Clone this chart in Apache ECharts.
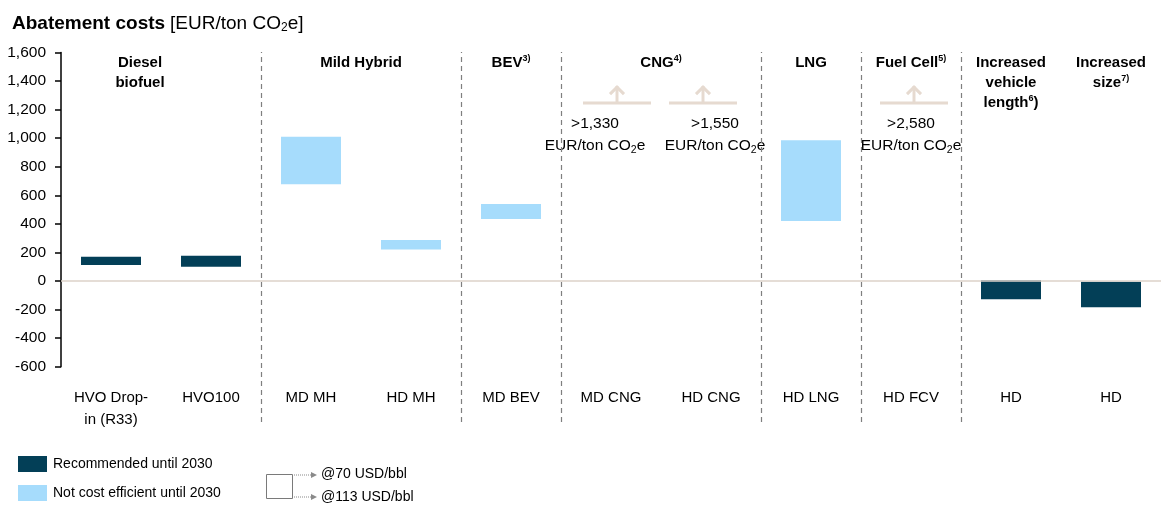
<!DOCTYPE html>
<html>
<head>
<meta charset="utf-8">
<script src="https://cdn.jsdelivr.net/npm/echarts@6/dist/echarts.min.js"></script>
<style>
  html, body { margin: 0; padding: 0; background: #fff; }
  #chart { width: 1161px; height: 506px; }
</style>
</head>
<body>
<div id="chart"></div>
<script>
// categories and values
const categories = ['HVO Drop-\nin (R33)', 'HVO100', 'MD MH', 'HD MH', 'MD BEV', 'MD CNG', 'HD CNG', 'HD LNG', 'HD FCV', 'HD', 'HD']
const recLow = [112, 100, '-', '-', '-', '-', '-', '-', '-', -128, -184]
const recHigh = [170, 177, '-', '-', '-', '-', '-', '-', '-', 5, -5]
const nceLow = ['-', '-', 677, 221, 433, '-', '-', 419, '-', '-', '-']
const nceHigh = ['-', '-', 1010, 286, 538, '-', '-', 985, '-', '-', '-']

// off-scale values shown as arrows
const offScaleCats = [5, 6, 8]
const offScaleValues = [1330, 1550, 2580]
const arrowLevel = 1245

// group headers over the categories
const groupNames = ['Diesel\nbiofuel', 'Mild Hybrid', 'BEV{sup|3)}', 'CNG{sup|4)}', 'LNG', 'Fuel Cell{sup|5)}',
  'Increased\nvehicle\nlength{sup|6}{h|)}', 'Increased\nsize{sup|7)}']
const groupSizes = [2, 2, 1, 2, 1, 1, 1, 1]
const dividerAt = [2, 4, 5, 7, 8, 9]

const yTicks = { min: -600, max: 1600, interval: 200 }

const FONT = '"Liberation Sans", Arial, sans-serif'
const DARK = '#033f57'
const LIGHT = '#a6dcfc'
const BEIGE = '#e6dad0'

const span = (lo, hi) => lo.map((v, i) => (v === '-' ? '-' : hi[i] - v))
const fmt = v => String(v).replace(/\B(?=(\d{3})+(?!\d))/g, ',')

// header centres from group sizes
let acc = 0
const headerData = groupNames.map((name, i) => {
  const c = acc + groupSizes[i] / 2
  acc += groupSizes[i]
  return { value: [c, 1], name: name }
})
headerData[0].label = { offset: [-21, 0] }

const arrowShift = [6, -8, 3]
const textShift = [-16, 4, 0]

const myChart = echarts.init(document.getElementById('chart'))

const chartOptions = {
  animation: false,
  title: {
    text: '{b|Abatement costs} {r|[EUR/ton CO}{s|2}{r|e]}',
    left: 7,
    top: 8,
    textStyle: {
      rich: {
        b: { fontFamily: FONT, fontWeight: 'bold', fontSize: 19, color: '#000' },
        r: { fontFamily: FONT, fontWeight: 'normal', fontSize: 19, color: '#000' },
        s: { fontFamily: FONT, fontWeight: 'normal', fontSize: 12, color: '#000', padding: [9, 0, 0, 0] }
      }
    }
  },
  legend: {
    orient: 'vertical',
    left: 18,
    top: 456,
    padding: 0,
    itemWidth: 29,
    itemHeight: 16,
    itemGap: 13,
    icon: 'rect',
    selectedMode: false,
    data: ['Recommended until 2030', 'Not cost efficient until 2030'],
    textStyle: { fontFamily: FONT, fontSize: 14, color: '#000', padding: [0, 0, 0, 1] }
  },
  grid: [
    { left: 61, right: 0, top: 52.4, bottom: 139.3 },
    { left: 61, right: 0, top: 52, bottom: 84 }
  ],
  xAxis: [
    {
      type: 'category',
      gridIndex: 0,
      data: categories,
      axisLine: { show: false },
      axisTick: { show: false },
      axisLabel: { margin: 20, fontFamily: FONT, fontSize: 15, lineHeight: 22, color: '#000', interval: 0 }
    },
    { type: 'value', gridIndex: 1, min: 0, max: 11, show: false }
  ],
  yAxis: [
    {
      type: 'value',
      gridIndex: 0,
      min: yTicks.min,
      max: yTicks.max,
      interval: yTicks.interval,
      axisLine: { show: true, lineStyle: { color: '#000', width: 1.5 } },
      axisTick: { show: true, length: 6, lineStyle: { color: '#000', width: 1.5 } },
      splitLine: { show: false },
      axisLabel: { margin: 15, fontFamily: FONT, fontSize: 15.5, color: '#000', formatter: v => fmt(v) }
    },
    { type: 'value', gridIndex: 1, min: 0, max: 1, show: false }
  ],
  series: [
    {
      name: 'recBase',
      type: 'bar',
      stack: 'rec',
      stackStrategy: 'all',
      barWidth: 60,
      barGap: '-100%',
      itemStyle: { color: 'transparent' },
      data: recLow,
      silent: true,
      markLine: {
        silent: true,
        symbol: 'none',
        label: { show: false },
        lineStyle: { color: '#ddd2c9', width: 1.5, type: 'solid' },
        data: [{ yAxis: 0 }]
      }
    },
    {
      name: 'Recommended until 2030',
      type: 'bar',
      stack: 'rec',
      stackStrategy: 'all',
      barWidth: 60,
      barGap: '-100%',
      itemStyle: { color: DARK },
      data: span(recLow, recHigh)
    },
    {
      name: 'nceBase',
      type: 'bar',
      stack: 'nce',
      stackStrategy: 'all',
      barWidth: 60,
      barGap: '-100%',
      itemStyle: { color: 'transparent' },
      silent: true,
      data: nceLow
    },
    {
      name: 'Not cost efficient until 2030',
      type: 'bar',
      stack: 'nce',
      stackStrategy: 'all',
      barWidth: 60,
      barGap: '-100%',
      itemStyle: { color: LIGHT },
      data: span(nceLow, nceHigh)
    },
    {
      // arrows for values above the scale
      type: 'custom',
      xAxisIndex: 0,
      yAxisIndex: 0,
      silent: true,
      clip: false,
      data: offScaleCats.map((c, i) => [c, arrowLevel, offScaleValues[i]]),
      encode: { x: 0, y: 1 },
      renderItem: function (params, api) {
        const i = params.dataIndex
        const p = api.coord([api.value(0), api.value(1)])
        const band = api.size([1, 0])[0]
        const ax = p[0] + arrowShift[i]
        const half = band * 0.34
        const ls = { stroke: BEIGE, lineWidth: 3, fill: null }
        return {
          type: 'group',
          children: [
            { type: 'line', shape: { x1: ax - half, y1: p[1], x2: ax + half, y2: p[1] }, style: ls },
            { type: 'line', shape: { x1: ax, y1: p[1], x2: ax, y2: p[1] - 17 }, style: ls },
            { type: 'polyline', shape: { points: [[ax - 7, p[1] - 9], [ax, p[1] - 16], [ax + 7, p[1] - 9]] }, style: ls },
            {
              type: 'text',
              x: p[0] + textShift[i],
              y: p[1] + 10,
              style: {
                text: '>' + fmt(api.value(2)) + '\n{m|EUR/ton CO}{s|2}{m|e}',
                fontFamily: FONT,
                fontSize: 15.5,
                lineHeight: 22,
                fill: '#000',
                align: 'center',
                verticalAlign: 'top',
                rich: {
                  m: { fontFamily: FONT, fontSize: 15.5, lineHeight: 22, fill: '#000' },
                  s: { fontFamily: FONT, fontSize: 10.5, fill: '#000', padding: [8, 0, 0, 0] }
                }
              }
            }
          ]
        }
      }
    },
    {
      // group headers and dividers
      type: 'scatter',
      xAxisIndex: 1,
      yAxisIndex: 1,
      symbolSize: 0,
      silent: true,
      itemStyle: { opacity: 1 },
      data: headerData,
      label: {
        show: true,
        position: 'bottom',
        distance: 1,
        formatter: p => p.name,
        fontFamily: FONT,
        fontWeight: 'bold',
        fontSize: 15,
        lineHeight: 20,
        color: '#000',
        align: 'center',
        rich: {
          sup: { fontFamily: FONT, fontWeight: 'bold', fontSize: 9, color: '#000', padding: [0, 0, 8, 0] },
          h: { fontFamily: FONT, fontWeight: 'bold', fontSize: 15, color: '#000' }
        }
      },
      markLine: {
        silent: true,
        symbol: 'none',
        label: { show: false },
        lineStyle: { color: '#7f7f7f', width: 1.2, type: [5, 4] },
        data: dividerAt.map(x => ({ xAxis: x }))
      }
    }
  ],
  graphic: [
    { type: 'rect', left: 266, top: 474, shape: { width: 26, height: 24 }, style: { fill: '#fff', stroke: '#7a7a7a', lineWidth: 1 } },
    { type: 'line', shape: { x1: 294, y1: 475, x2: 312, y2: 475 }, style: { stroke: '#8a8a8a', lineWidth: 1, lineDash: [1, 1] } },
    { type: 'polygon', shape: { points: [[311, 472], [317, 475], [311, 478]] }, style: { fill: '#8a8a8a' } },
    { type: 'line', shape: { x1: 294, y1: 497, x2: 312, y2: 497 }, style: { stroke: '#8a8a8a', lineWidth: 1, lineDash: [1, 1] } },
    { type: 'polygon', shape: { points: [[311, 494], [317, 497], [311, 500]] }, style: { fill: '#8a8a8a' } },
    { type: 'text', left: 321, top: 467, style: { text: '@70 USD/bbl', font: '14px ' + FONT, fill: '#000' } },
    { type: 'text', left: 321, top: 490, style: { text: '@113 USD/bbl', font: '14px ' + FONT, fill: '#000' } }
  ]
}

if (myChart) {
  myChart.setOption(chartOptions)
}
</script>
</body>
</html>
